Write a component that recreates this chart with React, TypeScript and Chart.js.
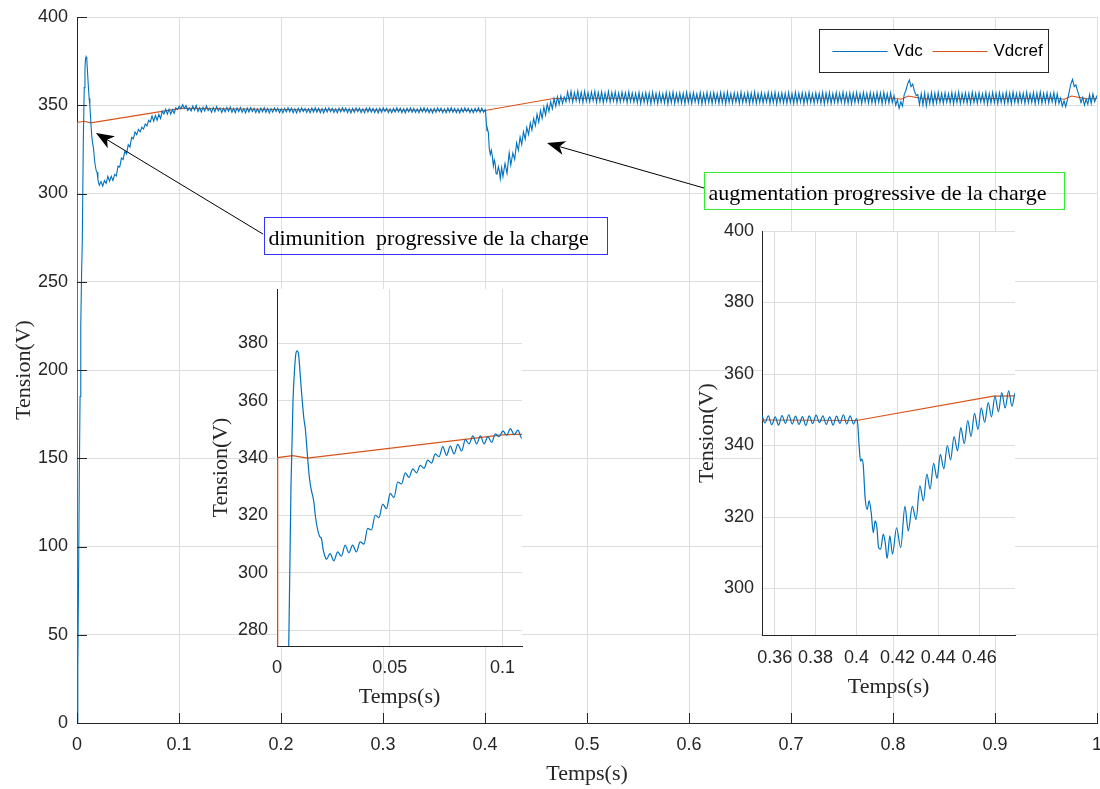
import React, { useEffect, useRef } from 'react';
import { Chart, registerables } from 'chart.js';

Chart.register(...registerables);

// ---------------- data ----------------
// Vdc: start-up transient (time s, value V)
const vdcStartupTime = [0, 0.0008, 0.0015, 0.0022, 0.003, 0.0037, 0.0045, 0.0052, 0.0062, 0.0071, 0.0078, 0.0083, 0.0089, 0.0096, 0.0104, 0.0111, 0.0119, 0.0126, 0.0136, 0.0144, 0.0152, 0.0163, 0.017, 0.0178, 0.019, 0.0197, 0.0205, 0.0212];
const vdcStartupValue = [0, 30, 80, 135, 185, 225, 255, 274, 330, 360, 371, 376, 377.4, 376, 368, 361, 354, 350, 340, 333, 329, 325, 320, 316, 312.6, 312, 308, 306];

// Vdc: successive ripple extremes, one every half ripple period, from t = 0.0219 s
const RIPPLE_STEP = 1 / 600;
const vdcRecoveryStart = 0.0219;
const vdcRecoveryValue = [
  304.7, 306.7, 304.2, 307.3, 305.8, 309.7, 307.0, 309.7, 307.3, 310.8,
  310.0, 315.5, 315.0, 320.1, 319.3, 324.0, 322.4, 327.7, 326.3, 331.7,
  331.0, 334.9, 333.3, 336.3, 334.9, 337.5, 336.5, 339.3, 338.3, 341.5,
  340.5, 344.0, 341.0, 344.2, 341.5, 344.8, 342.5, 346.5, 345.0, 347.8,
  345.0, 347.8, 345.0, 347.5, 345.5, 348.5, 347.5, 349.5, 348.0, 350.3,
  348.2, 349.8, 347.0, 348.5,
  346.8, 349.5, 347.2, 349.8, 346.5, 348.6, 346.2, 348.9, 346.8, 349.6,
  347.0, 348.4, 346.0, 348.7, 346.4, 349.2, 346.9, 348.5, 345.9, 348.3,
  346.3, 348.8, 346.6, 349.0, 346.1, 348.2, 345.8, 348.5, 346.4, 348.7,
  346.0, 348.1, 345.7, 348.4, 346.2, 348.6, 346.5, 348.3, 345.9, 348.0,
  345.8, 348.4, 346.3, 348.6, 346.0, 348.2, 345.6, 348.1, 346.1, 348.5,
  346.4, 348.3, 345.9, 348.0, 345.7, 348.2, 346.2, 348.6, 346.3, 348.4,
  345.8, 348.1, 345.6, 348.3, 346.1, 348.5, 346.4, 348.2, 345.9, 348.0,
  345.7, 348.4, 346.2, 348.6, 346.0, 348.3, 345.8, 348.1, 345.6, 348.4,
  346.1, 348.5, 346.3, 348.2, 345.9, 348.0, 345.7, 348.3, 346.2, 348.6,
  346.4, 348.4, 345.9, 348.1, 345.6, 348.2, 346.0, 348.5, 346.3, 348.3,
  345.8, 348.0, 345.7, 348.4, 346.2, 348.6, 346.1, 348.2, 345.8, 348.1,
  345.6, 348.3, 346.0, 348.5, 346.4, 348.3, 345.9, 348.0, 345.7, 348.2,
  346.1, 348.6, 346.3, 348.4, 345.8, 348.1, 345.6, 348.3, 346.2, 348.5,
  346.0, 348.2, 345.9, 348.0, 345.7, 348.4, 346.3, 348.6, 346.1, 348.3,
  345.8, 348.1, 345.6, 348.2, 346.0, 348.5, 346.3, 348.3, 345.8, 348.0,
  345.7, 348.4, 346.2, 348.6, 346.0, 348.2, 345.9, 348.1, 345.6, 348.3,
  346.1, 348.5, 346.4, 348.3, 345.9, 348.0, 345.7, 348.2, 346.2, 348.6,
  346.0, 348.3, 346.0
];

// Vdc: dip after the load step at t = 0.4 s (time s, value V)
const vdcDipTime = [0.4, 0.4006, 0.4013, 0.402, 0.4026, 0.4033, 0.4042, 0.4052, 0.4062, 0.4072, 0.4082, 0.4091, 0.41, 0.4108, 0.4118, 0.4131, 0.414, 0.415, 0.4163, 0.4176, 0.4196, 0.4216, 0.4237, 0.4253, 0.4273, 0.4291, 0.431, 0.4327, 0.4344, 0.436, 0.4377, 0.4394, 0.441, 0.4427, 0.4444, 0.446, 0.4477, 0.4494, 0.451, 0.4527, 0.4544, 0.456, 0.4577, 0.4594, 0.461, 0.4627, 0.4644, 0.466, 0.4677, 0.4694, 0.471, 0.4727, 0.4744, 0.476, 0.4777, 0.4794];
const vdcDipValue = [347.5, 346.0, 339.8, 335.6, 336.2, 334.5, 325.5, 322.1, 324.5, 321.2, 315.6, 318.9, 317.0, 311.4, 311.0, 315.2, 313.0, 308.4, 314.7, 309.6, 317.0, 311.4, 323.0, 316.1, 323.0, 319.3, 328.7, 324.5, 332.0, 327.8, 335.0, 330.8, 337.5, 333.5, 340.0, 336.0, 342.5, 338.5, 345.0, 340.5, 347.0, 342.5, 349.0, 344.5, 350.5, 346.5, 352.0, 348.0, 353.8, 349.5, 354.8, 350.5, 355.3, 351.0, 354.8, 352.0];

// Vdc: ripple extremes from t = 0.481 s (half ripple period apart)
const vdcBandAStart = 0.481;
const vdcBandAValue = [
  357.6, 352.4, 357.9, 351.8, 357.2, 352.6, 358.0, 352.0, 357.4, 351.6,
  357.8, 352.3, 357.1, 351.9, 357.5, 352.5, 357.9, 351.7, 357.3, 352.1,
  357.6, 351.5, 357.0, 352.2, 357.7, 351.8, 357.2, 352.4, 357.5, 351.6,
  356.9, 351.9, 357.4, 352.3, 357.1, 351.5, 357.6, 352.0, 357.0, 351.7,
  356.8, 351.4, 357.2, 351.0, 356.6, 351.6, 357.1, 351.2, 356.9, 350.9,
  357.3, 351.5, 356.7, 351.1, 357.0, 351.7, 356.5, 351.3, 357.2, 350.8,
  356.9, 351.4, 357.4, 351.0, 356.6, 351.6, 357.0, 351.2, 356.8, 350.9,
  357.3, 351.5, 356.7, 351.1, 357.1, 351.8, 356.5, 351.3, 357.2, 350.8,
  356.7, 351.2, 357.3, 351.4, 356.8, 351.0, 357.1, 351.6, 356.6, 351.1,
  357.2, 351.3, 356.9, 350.8, 357.4, 351.5, 356.6, 351.2, 357.0, 351.7,
  356.8, 351.0, 357.3, 351.4, 356.5, 351.6, 357.1, 350.9, 356.9, 351.3,
  357.4, 351.1, 356.7, 351.5, 357.0, 351.2, 356.6, 351.8, 357.2, 351.0,
  356.9, 351.4, 357.3, 350.8, 356.7, 351.6, 357.0, 351.3, 356.8, 351.1,
  357.2, 351.5, 356.6, 351.0, 357.4, 351.2, 356.9, 351.7, 357.1, 350.9,
  356.8, 351.3, 357.3, 351.5, 356.5, 351.1, 357.0, 351.6, 356.7, 351.2,
  357.3, 350.8, 356.9, 351.4, 357.1, 351.0, 356.6, 351.5, 357.2, 351.3,
  356.8, 351.6, 357.4, 351.1, 356.7, 351.2, 357.0, 350.9, 356.9, 351.4,
  357.2, 351.5, 356.6, 351.0, 357.3, 351.7, 356.8, 351.2, 357.1, 351.3,
  356.7, 351.1, 357.2, 351.6, 356.9, 350.8, 357.3, 351.4, 356.6, 351.2,
  357.0
];

// Vdc: disturbance around t = 0.81 s (time s, value V)
const vdcBump1Time = [0.7993, 0.801, 0.8027, 0.8043, 0.806, 0.8077, 0.8093, 0.811, 0.8127, 0.8143, 0.816, 0.8177, 0.8193, 0.821, 0.8227, 0.8243, 0.826];
const vdcBump1Value = [351.5, 355.5, 350.0, 353.0, 348.3, 352.0, 349.5, 356.0, 358.5, 362.0, 364.3, 360.5, 362.0, 358.0, 355.5, 356.0, 350.5];

// Vdc: ripple extremes from t = 0.8277 s (half ripple period apart)
const vdcBandBStart = 0.8277;
const vdcBandBValue = [
  356.5, 350.2, 356.9, 349.8, 356.3, 351.0, 357.1, 350.6, 356.8, 351.2,
  357.3, 351.5, 356.7, 351.1, 357.1, 351.7, 356.5, 351.3, 357.2, 350.8,
  356.9, 351.4, 357.4, 351.0, 356.6, 351.6, 357.0, 351.2, 356.8, 350.9,
  357.3, 351.5, 356.7, 351.1, 357.1, 351.8, 356.5, 351.3, 357.2, 350.8,
  356.7, 351.2, 357.3, 351.4, 356.8, 351.0, 357.1, 351.6, 356.6, 351.1,
  357.2, 351.3, 356.9, 350.8, 357.4, 351.5, 356.6, 351.2, 357.0, 351.7,
  356.8, 351.0, 357.3, 351.4, 356.5, 351.6, 357.1, 350.9, 356.9, 351.3,
  357.4, 351.1, 356.7, 351.5, 357.0, 351.2, 356.6, 351.8, 357.2, 351.0
];

// Vdc: disturbance around t = 0.975 s (time s, value V)
const vdcBump2Time = [0.961, 0.9627, 0.9643, 0.966, 0.9677, 0.9693, 0.971, 0.9727, 0.9743, 0.976, 0.9777, 0.9793, 0.981, 0.9827, 0.9843, 0.986, 0.9877, 0.9893, 0.991, 0.9927, 0.9943, 0.996, 0.9977, 1.0];
const vdcBump2Value = [356.5, 351.0, 354.0, 349.5, 352.5, 349.2, 353.0, 357.5, 362.0, 364.7, 360.5, 361.5, 358.0, 355.0, 351.5, 354.5, 350.0, 353.5, 350.5, 356.0, 351.0, 356.5, 352.0, 355.5];

// Vdcref (time s, value V)
const refTime = [0, 0.0003, 0.007, 0.0135, 0.1, 0.105, 0.2, 0.3, 0.4, 0.467, 0.5, 0.8, 0.808, 0.815, 0.83, 0.96, 0.968, 0.975, 0.99, 1.0];
const refValue = [0, 340.2, 340.9, 340.0, 348.1, 348.3, 347.6, 347.3, 347.0, 353.8, 354.0, 354.0, 353.4, 355.2, 353.6, 354.0, 353.4, 355.2, 353.6, 353.8];

const seriesLabels = ['Vdc', 'Vdcref'];

// ticks
const mainXTicks = [0, 0.1, 0.2, 0.3, 0.4, 0.5, 0.6, 0.7, 0.8, 0.9, 1];
const mainXLabels = ['0', '0.1', '0.2', '0.3', '0.4', '0.5', '0.6', '0.7', '0.8', '0.9', '1'];
const mainYTicks = [0, 50, 100, 150, 200, 250, 300, 350, 400];
const inset1XTicks = [0, 0.05, 0.1];
const inset1XLabels = ['0', '0.05', '0.1'];
const inset1YTicks = [280, 300, 320, 340, 360, 380];
const inset2XTicks = [0.36, 0.38, 0.4, 0.42, 0.44, 0.46];
const inset2XLabels = ['0.36', '0.38', '0.4', '0.42', '0.44', '0.46'];
const inset2YTicks = [300, 320, 340, 360, 380, 400];

// annotations: text boxes and arrows, anchored in data units (s, V)
const annotationTexts = ['dimunition  progressive de la charge', 'augmentation progressive de la charge'];
const annotationBoxX = [[0.1833, 0.5196], [0.6147, 0.9676]];
const annotationBoxY = [[286.7, 265.7], [312.2, 291.2]];
const annotationArrowFrom = [[0.1824, 277.0], [0.6147, 303.1]];
const annotationArrowTo = [[0.0186, 334.3], [0.4608, 328.6]];
const annotationColors = ['#3333ff', '#33ee33'];

// ---------------- styling ----------------
const BLUE = '#0072BD';
const ORANGE = '#D95319';
const GRID = '#dedede';
const AXIS = '#262626';
const SANS = "'Liberation Sans', Arial, Helvetica, sans-serif";
const SERIF = "'Liberation Serif', 'Times New Roman', Times, serif";

function pushPairs(pts: { x: number; y: number }[], times: number[], values: number[]) {
  times.forEach((t, i) => pts.push({ x: t, y: values[i] }));
}
function pushRun(pts: { x: number; y: number }[], start: number, values: number[]) {
  values.forEach((v, i) => pts.push({ x: start + i * RIPPLE_STEP, y: v }));
}
function buildVdc() {
  const pts: { x: number; y: number }[] = [];
  pushPairs(pts, vdcStartupTime, vdcStartupValue);
  pushRun(pts, vdcRecoveryStart, vdcRecoveryValue);
  pushPairs(pts, vdcDipTime, vdcDipValue);
  pushRun(pts, vdcBandAStart, vdcBandAValue);
  pushPairs(pts, vdcBump1Time, vdcBump1Value);
  pushRun(pts, vdcBandBStart, vdcBandBValue);
  pushPairs(pts, vdcBump2Time, vdcBump2Value);
  return pts;
}
function buildRef() {
  return refTime.map((t, i) => ({ x: t, y: refValue[i] }));
}

const whiteAreaPlugin = {
  id: 'whiteArea',
  beforeDraw(chart: any, _a: any, o: any) {
    if (!o || !o.enabled) return;
    const { ctx, chartArea } = chart;
    ctx.save();
    ctx.fillStyle = '#ffffff';
    ctx.fillRect(chartArea.left, chartArea.top, chartArea.right - chartArea.left, chartArea.bottom - chartArea.top);
    ctx.restore();
  },
};

const inwardTicksPlugin = {
  id: 'inwardTicks',
  afterDraw(chart: any, _a: any, o: any) {
    if (!o || !o.length) return;
    const { ctx, chartArea } = chart;
    const xs = chart.scales.x;
    const ys = chart.scales.y;
    ctx.save();
    ctx.strokeStyle = AXIS;
    ctx.lineWidth = 1;
    ctx.beginPath();
    xs.ticks.forEach((t: any) => {
      const px = Math.round(xs.getPixelForValue(t.value)) + 0.5;
      ctx.moveTo(px, chartArea.bottom);
      ctx.lineTo(px, chartArea.bottom - o.length);
    });
    ys.ticks.forEach((t: any) => {
      const py = Math.round(ys.getPixelForValue(t.value)) + 0.5;
      ctx.moveTo(chartArea.left, py);
      ctx.lineTo(chartArea.left + o.length, py);
    });
    ctx.stroke();
    ctx.restore();
  },
};

const boxLegendPlugin = {
  id: 'boxLegend',
  afterDraw(chart: any, _a: any, o: any) {
    if (!o || !o.enabled) return;
    const { ctx, chartArea } = chart;
    const left = Math.round(chartArea.right - o.right) + 0.5;
    const top = Math.round(chartArea.top + o.top) + 0.5;
    ctx.save();
    ctx.fillStyle = '#ffffff';
    ctx.fillRect(left, top, o.width, o.height);
    ctx.strokeStyle = o.borderColor;
    ctx.lineWidth = 1;
    ctx.strokeRect(left, top, o.width, o.height);
    ctx.font = o.font;
    ctx.textBaseline = 'middle';
    ctx.textAlign = 'left';
    const cy = Math.round(top + o.height / 2) + 0.5;
    chart.data.datasets.forEach((ds: any, i: number) => {
      const x = left + o.itemOffsets[i];
      ctx.strokeStyle = ds.borderColor;
      ctx.lineWidth = 1;
      ctx.beginPath();
      ctx.moveTo(x, cy);
      ctx.lineTo(x + o.lineLength, cy);
      ctx.stroke();
      ctx.fillStyle = '#000000';
      ctx.fillText(ds.label, x + o.lineLength + o.gap, cy);
    });
    ctx.restore();
  },
};

const annotationPlugin = {
  id: 'notes',
  afterDraw(chart: any, _a: any, o: any) {
    if (!o || !o.enabled) return;
    const { ctx } = chart;
    const xs = chart.scales.x;
    const ys = chart.scales.y;
    const X = (v: number) => xs.getPixelForValue(v);
    const Y = (v: number) => ys.getPixelForValue(v);
    ctx.save();
    annotationTexts.forEach((text, i) => {
      const x0 = Math.round(X(annotationBoxX[i][0])) + 0.5;
      const x1 = Math.round(X(annotationBoxX[i][1])) + 0.5;
      const y0 = Math.round(Y(annotationBoxY[i][0])) + 0.5;
      const y1 = Math.round(Y(annotationBoxY[i][1])) + 0.5;
      ctx.strokeStyle = annotationColors[i];
      ctx.lineWidth = 1;
      ctx.strokeRect(x0, y0, x1 - x0, y1 - y0);
      ctx.fillStyle = '#000000';
      ctx.font = o.font;
      ctx.textAlign = 'left';
      ctx.textBaseline = 'alphabetic';
      ctx.fillText(text, x0 + o.textPadLeft, y1 - o.textPadBottom);

      const sx = X(annotationArrowFrom[i][0]);
      const sy = Y(annotationArrowFrom[i][1]);
      const tx = X(annotationArrowTo[i][0]);
      const ty = Y(annotationArrowTo[i][1]);
      const ang = Math.atan2(ty - sy, tx - sx);
      const ux = Math.cos(ang);
      const uy = Math.sin(ang);
      const px = -uy;
      const py = ux;
      const L = o.headLength;
      const W = o.headHalfWidth;
      const N = o.headNotch;
      ctx.strokeStyle = '#000000';
      ctx.lineWidth = 1;
      ctx.beginPath();
      ctx.moveTo(sx, sy);
      ctx.lineTo(tx - ux * (L - N), ty - uy * (L - N));
      ctx.stroke();
      ctx.fillStyle = '#000000';
      ctx.beginPath();
      ctx.moveTo(tx, ty);
      ctx.lineTo(tx - ux * L + px * W, ty - uy * L + py * W);
      ctx.lineTo(tx - ux * (L - N), ty - uy * (L - N));
      ctx.lineTo(tx - ux * L - px * W, ty - uy * L - py * W);
      ctx.closePath();
      ctx.fill();
    });
    ctx.restore();
  },
};

type Setup = {
  xMin: number; xMax: number; yMin: number; yMax: number;
  xTicks: number[]; xLabels: string[]; yTicks: number[];
  padding: { left: number; top: number; right: number; bottom: number };
  yWidth: number; xHeight: number;
  yTitlePad: number; xTitlePad: number; yTickPad: number; xTickPad: number;
  lineWidth: number; smooth: boolean;
  pluginOptions: any;
};

function makeChart(canvas: HTMLCanvasElement, s: Setup) {
  const tickFont = { family: SANS, size: 18 };
  const titleFont = { family: SERIF, size: 22 };
  return new Chart(canvas, {
    type: 'line',
    data: {
      datasets: [
        {
          label: seriesLabels[0],
          data: buildVdc(),
          borderColor: BLUE,
          borderWidth: s.lineWidth,
          pointRadius: 0,
          fill: false,
          cubicInterpolationMode: s.smooth ? 'monotone' : 'default',
          tension: 0,
        },
        {
          label: seriesLabels[1],
          data: buildRef(),
          borderColor: ORANGE,
          borderWidth: s.lineWidth,
          pointRadius: 0,
          fill: false,
          tension: 0,
        },
      ],
    } as any,
    options: {
      animation: false,
      responsive: false,
      devicePixelRatio: 1,
      events: [],
      parsing: false,
      normalized: true,
      layout: { padding: s.padding },
      plugins: {
        legend: { display: false },
        tooltip: { enabled: false },
        ...s.pluginOptions,
      },
      scales: {
        x: {
          type: 'linear',
          min: s.xMin,
          max: s.xMax,
          afterBuildTicks: (sc: any) => { sc.ticks = s.xTicks.map((v) => ({ value: v })); },
          afterFit: (sc: any) => { sc.height = s.xHeight; sc.paddingLeft = 0; sc.paddingRight = 0; },
          ticks: {
            autoSkip: false,
            maxRotation: 0,
            minRotation: 0,
            padding: s.xTickPad,
            color: AXIS,
            font: tickFont,
            callback: (_v: any, i: number) => s.xLabels[i],
          },
          grid: { color: GRID, lineWidth: 1, drawTicks: false },
          border: { display: true, color: AXIS, width: 1 },
          title: { display: true, text: 'Temps(s)', color: AXIS, font: titleFont, padding: { top: 0, bottom: s.xTitlePad } },
        },
        y: {
          type: 'linear',
          min: s.yMin,
          max: s.yMax,
          afterBuildTicks: (sc: any) => { sc.ticks = s.yTicks.map((v) => ({ value: v })); },
          afterFit: (sc: any) => { sc.width = s.yWidth; sc.paddingTop = 0; sc.paddingBottom = 0; },
          ticks: {
            autoSkip: false,
            padding: s.yTickPad,
            color: AXIS,
            font: tickFont,
            callback: (v: any) => String(v),
          },
          grid: { color: GRID, lineWidth: 1, drawTicks: false },
          border: { display: true, color: AXIS, width: 1 },
          title: { display: true, text: 'Tension(V)', color: AXIS, font: titleFont, padding: { top: s.yTitlePad, bottom: 0 } },
        },
      },
    } as any,
    plugins: [whiteAreaPlugin, inwardTicksPlugin, boxLegendPlugin, annotationPlugin],
  });
}

export default function App() {
  const mainRef = useRef<HTMLCanvasElement>(null);
  const in1Ref = useRef<HTMLCanvasElement>(null);
  const in2Ref = useRef<HTMLCanvasElement>(null);

  useEffect(() => {
    const charts: Chart[] = [];
    if (mainRef.current) {
      charts.push(makeChart(mainRef.current, {
        xMin: 0, xMax: 1, yMin: 0, yMax: 400,
        xTicks: mainXTicks, xLabels: mainXLabels, yTicks: mainYTicks,
        padding: { left: 0, top: 17, right: 3, bottom: 0 },
        yWidth: 77, xHeight: 66,
        yTitlePad: 11, xTitlePad: 2, yTickPad: 9, xTickPad: 11,
        lineWidth: 1.1, smooth: false,
        pluginOptions: {
          inwardTicks: { length: 10 },
          boxLegend: {
            enabled: true, right: 278, top: 12, width: 229, height: 43,
            borderColor: AXIS, font: `17px ${SANS}`,
            itemOffsets: [13, 113], lineLength: 55, gap: 6,
          },
          notes: {
            enabled: true, font: `22px ${SERIF}`, textPadLeft: 4, textPadBottom: 10,
            headLength: 18, headHalfWidth: 7, headNotch: 5,
          },
        },
      }));
    }
    if (in1Ref.current) {
      charts.push(makeChart(in1Ref.current, {
        xMin: 0, xMax: 0.1087, yMin: 274.5, yMax: 399,
        xTicks: inset1XTicks, xLabels: inset1XLabels, yTicks: inset1YTicks,
        padding: { left: 0, top: 9, right: 18, bottom: 0 },
        yWidth: 77, xHeight: 64,
        yTitlePad: 8, xTitlePad: 0, yTickPad: 9, xTickPad: 11,
        lineWidth: 1.2, smooth: true,
        pluginOptions: { whiteArea: { enabled: true } },
      }));
    }
    if (in2Ref.current) {
      charts.push(makeChart(in2Ref.current, {
        xMin: 0.3538, xMax: 0.4775, yMin: 287, yMax: 400,
        xTicks: inset2XTicks, xLabels: inset2XLabels, yTicks: inset2YTicks,
        padding: { left: 0, top: 11, right: 15, bottom: 0 },
        yWidth: 72, xHeight: 65,
        yTitlePad: 4, xTitlePad: 0, yTickPad: 8, xTickPad: 12,
        lineWidth: 1.2, smooth: true,
        pluginOptions: { whiteArea: { enabled: true } },
      }));
    }
    return () => { charts.forEach((c) => c.destroy()); };
  }, []);

  return (
    <div style={{ position: 'fixed', left: 0, top: 0, width: 1100, height: 789, background: '#ffffff', overflow: 'hidden' }}>
      <canvas ref={mainRef} width={1100} height={789} style={{ position: 'absolute', left: 0, top: 0, width: 1100, height: 789, display: 'block' }} />
      <canvas ref={in1Ref} width={340} height={430} style={{ position: 'absolute', left: 200, top: 280, width: 340, height: 430, display: 'block' }} />
      <canvas ref={in2Ref} width={340} height={480} style={{ position: 'absolute', left: 690, top: 220, width: 340, height: 480, display: 'block' }} />
    </div>
  );
}
